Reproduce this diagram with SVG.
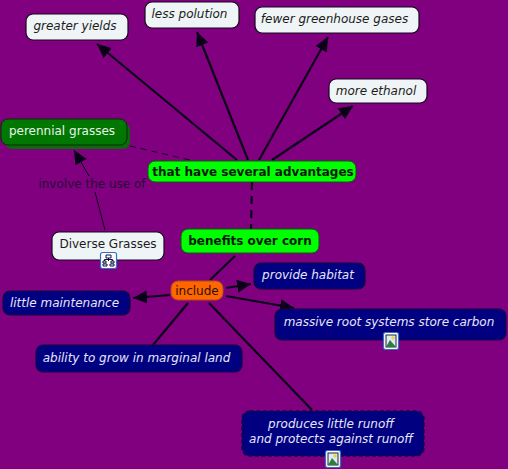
<svg xmlns="http://www.w3.org/2000/svg" width="508" height="469" viewBox="0 0 508 469">
<style>
text{font-family:"DejaVu Sans",Verdana,sans-serif;font-size:12px;text-anchor:middle}
.w rect{fill:#eff4f6;stroke:#14061e;stroke-width:1.2}
.w text{fill:#1c1c1c}
.i{font-style:italic}
.b rect{fill:#000080;stroke:#14083e;stroke-width:1.2}
.b rect.d{stroke:#14083e;stroke-width:1.600;stroke-dasharray:4 2.500}
.b text{fill:#e6e6fa}
.g rect{fill:#00ff00;stroke:#0a5a0a;stroke-width:1}
.g text{fill:#0a1a0a;font-weight:bold}
.l{stroke:#0a0018;fill:none;stroke-width:2.2}
.t{stroke:#0a0018;fill:none;stroke-width:1}
.ic{fill:#fff;stroke:#2f6fc8;stroke-width:1.2}
</style>
<defs>
<marker id="a" markerUnits="userSpaceOnUse" markerWidth="16" markerHeight="14" refX="14" refY="6.500" orient="auto"><path d="M0 0L14 6.500L0 13Z" fill="#0a0018"/></marker>
<g id="pic"><rect class="ic" x="0.5" y="0.5" width="15" height="17" rx="2"/><rect x="3" y="3" width="10" height="12" fill="#dceaf8" stroke="#223"/><circle cx="10" cy="6" r="1.800" fill="#ecd24a"/><path d="M3 15L7 8L13 15Z" fill="#2e7d3a"/></g>
<g id="map"><rect class="ic" x="0.5" y="0.5" width="16" height="16" rx="2"/><path d="M6 3h5v3H6zM3 9h3v2H3zM11 9h3v2h-3zM3 12h4v2H3zM10 12h4v2h-4zM8.500 6v3M4.500 9V7.500h8V9" fill="none" stroke="#101040"/></g>
</defs>
<rect width="508" height="469" fill="#800080"/>
<g id="connectors">
<path class="l" marker-end="url(#a)" d="M237 160L97 44"/>
<path class="l" marker-end="url(#a)" d="M248 160L197 32"/>
<path class="l" marker-end="url(#a)" d="M259 160L328 37"/>
<path class="l" marker-end="url(#a)" d="M272 160L353 106"/>
<path class="t" stroke-dasharray="6 5" d="M130 146L190 160"/>
<path class="l" stroke-dasharray="8 6" d="M252 182L251 229"/>
<path class="t" d="M105 230L95 192"/>
<path class="t" marker-end="url(#a)" d="M89 176L74 150"/>
<path class="l" d="M235 256L210 280"/>
<path class="l" marker-end="url(#a)" d="M170 295L133 298"/>
<path class="l" marker-end="url(#a)" d="M226 288L251 284"/>
<path class="l" marker-end="url(#a)" d="M226 296L294 308"/>
<path class="l" d="M188 303L153 345"/>
<path class="l" d="M209 303L312 410"/>
</g>
<text x="92" y="188" fill="#2a0a38">involve the use of</text>
<g id="greater" class="w"><rect x="26" y="14" width="102" height="26" rx="7"/><text class="i" x="75" y="30">greater yields</text></g>
<g id="less" class="w"><rect x="145" y="2" width="94" height="26" rx="7"/><text class="i" x="189.500" y="18">less polution</text></g>
<g id="fewer" class="w"><rect x="255" y="7" width="164" height="26" rx="7"/><text class="i" x="334.500" y="23">fewer greenhouse gases</text></g>
<g id="ethanol" class="w"><rect x="329" y="79" width="98" height="24" rx="7"/><text class="i" x="376" y="95">more ethanol</text></g>
<g id="perennial"><rect x="5" y="123" width="125" height="26" rx="7" fill="#0a6a0a"/><rect x="1" y="119" width="126" height="26" rx="7" fill="#007700" stroke="#0a2a0a"/><text x="62" y="135" fill="#eaf5ea">perennial grasses</text></g>
<g id="advantages" class="g"><rect x="148" y="161" width="208" height="21" rx="7"/><text x="253" y="175.500">that have several advantages</text></g>
<g id="benefits" class="g"><rect x="181" y="229" width="138" height="24" rx="7"/><text x="250" y="245">benefits over corn</text></g>
<g id="diverse" class="w"><rect x="52" y="232" width="112" height="28" rx="7"/><text x="108" y="248">Diverse Grasses</text><use href="#map" x="100" y="252"/></g>
<g id="include"><rect x="171" y="281" width="52" height="19" rx="7" fill="#ff6600" stroke="#b04a10"/><text x="197" y="295" fill="#2a1008">include</text></g>
<g id="maintenance" class="b"><rect x="3" y="291" width="127" height="24" rx="7"/><text class="i" x="64.500" y="307">little maintenance</text></g>
<g id="habitat" class="b"><rect x="254" y="263" width="111" height="26" rx="7"/><text class="i" x="308" y="279">provide habitat</text></g>
<g id="massive" class="b"><rect x="275" y="309" width="231" height="31" rx="7"/><text class="i" x="389" y="326">massive root systems store carbon</text><use href="#pic" x="383" y="332"/></g>
<g id="ability" class="b"><rect x="36" y="345" width="206" height="27" rx="7"/><text class="i" x="136.500" y="362">ability to grow in marginal land</text></g>
<g id="runoff" class="b"><rect class="d" x="242" y="411" width="182" height="45" rx="8"/><text class="i" x="331" y="428">produces little runoff</text><text class="i" x="331" y="443">and protects against runoff</text><use href="#pic" x="325" y="450"/></g>
</svg>
